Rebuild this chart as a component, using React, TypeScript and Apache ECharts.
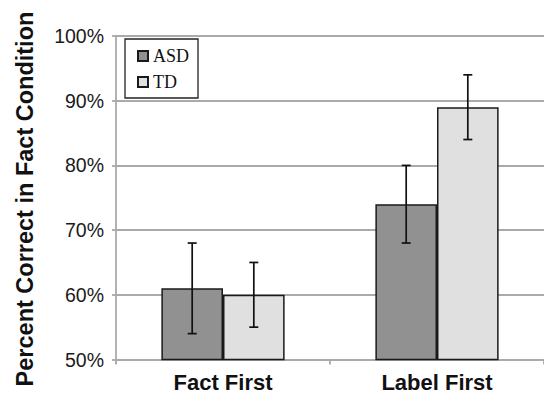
import React, { useEffect, useRef } from "react";
import * as echarts from "echarts";

const categories = ["Fact First", "Label First"];
const asdValues = [61, 74];
const tdValues = [60, 89];
const asdLow = [54, 68];
const asdHigh = [68, 80];
const tdLow = [55, 84];
const tdHigh = [65, 94];
const yTicks = [50, 60, 70, 80, 90, 100];

const BAR_FRAC = 0.288;

function errorRenderer(offsetFrac: number) {
  return (params: any, api: any) => {
    const xv = api.value(0);
    const lo = api.coord([xv, api.value(1)]);
    const hi = api.coord([xv, api.value(2)]);
    const band = api.size([1, 0])[0];
    const x = lo[0] + offsetFrac * band;
    const cap = 4.5;
    const style = { stroke: "#111", lineWidth: 1.7 };
    return {
      type: "group",
      children: [
        { type: "line", shape: { x1: x, y1: lo[1], x2: x, y2: hi[1] }, style },
        { type: "line", shape: { x1: x - cap, y1: lo[1], x2: x + cap, y2: lo[1] }, style },
        { type: "line", shape: { x1: x - cap, y1: hi[1], x2: x + cap, y2: hi[1] }, style },
      ],
    };
  };
}

export default function App() {
  const ref = useRef<HTMLDivElement>(null);
  useEffect(() => {
    if (!ref.current) return;
    const chart = echarts.init(ref.current, null, { renderer: "svg" });
    chart.setOption({
      animation: false,
      backgroundColor: "#fff",
      grid: { left: 116, right: 0, top: 36, bottom: 42.5 },
      legend: {
        data: ["ASD", "TD"],
        orient: "vertical",
        left: 125,
        top: 39,
        padding: [8, 9, 7, 12],
        itemGap: 8,
        itemWidth: 10,
        itemHeight: 10,
        itemTextGap: 7,
        icon: "rect",
        borderColor: "#222",
        borderWidth: 1.3,
        backgroundColor: "#fff",
        textStyle: {
          fontFamily: "Liberation Serif",
          fontSize: 18,
          lineHeight: 18,
          color: "#111",
        },
      },
      graphic: [
        {
          type: "text",
          x: 25,
          y: 199,
          rotation: Math.PI / 2,
          style: {
            text: "Percent Correct in Fact Condition",
            fontFamily: "Liberation Sans",
            fontWeight: "bold",
            fontSize: 23.5,
            fill: "#111",
            textAlign: "center",
            textVerticalAlign: "middle",
          },
        },
      ],
      xAxis: {
        type: "category",
        data: categories,
        axisLine: { lineStyle: { color: "#aaa", width: 1.8 } },
        axisTick: { show: true, length: 5, lineStyle: { color: "#aaa", width: 1.8 } },
        axisLabel: {
          fontFamily: "Liberation Sans",
          fontWeight: "bold",
          fontSize: 22,
          color: "#111",
          margin: 12,
        },
      },
      yAxis: {
        type: "value",
        min: yTicks[0],
        max: yTicks[yTicks.length - 1],
        interval: 10,
        axisLine: { show: true, lineStyle: { color: "#aaa", width: 1.8 } },
        axisTick: { show: true, length: 4, lineStyle: { color: "#aaa", width: 1.8 } },
        splitLine: { lineStyle: { color: "#aaa", width: 1.8 } },
        axisLabel: {
          formatter: "{value}%",
          fontFamily: "Liberation Sans",
          fontSize: 19.5,
          color: "#1a1a1a",
          margin: 12,
        },
      },
      series: [
        {
          name: "ASD",
          type: "bar",
          data: asdValues,
          barWidth: (BAR_FRAC * 100).toFixed(1) + "%",
          barGap: "0%",
          itemStyle: { color: "#919191", borderColor: "#1a1a1a", borderWidth: 1.5 },
        },
        {
          name: "TD",
          type: "bar",
          data: tdValues,
          barWidth: (BAR_FRAC * 100).toFixed(1) + "%",
          barGap: "0%",
          itemStyle: { color: "#e0e0e0", borderColor: "#1a1a1a", borderWidth: 1.5 },
        },
        {
          name: "ASD err",
          type: "custom",
          z: 10,
          renderItem: errorRenderer(-BAR_FRAC / 2),
          encode: { x: 0, y: [1, 2] },
          data: categories.map((_, i) => [i, asdLow[i], asdHigh[i]]),
        },
        {
          name: "TD err",
          type: "custom",
          z: 10,
          renderItem: errorRenderer(BAR_FRAC / 2),
          encode: { x: 0, y: [1, 2] },
          data: categories.map((_, i) => [i, tdLow[i], tdHigh[i]]),
        },
      ],
    });
    return () => chart.dispose();
  }, []);
  return <div ref={ref} style={{ width: 544, height: 402, position: "fixed", left: 0, top: 0 }} />;
}
